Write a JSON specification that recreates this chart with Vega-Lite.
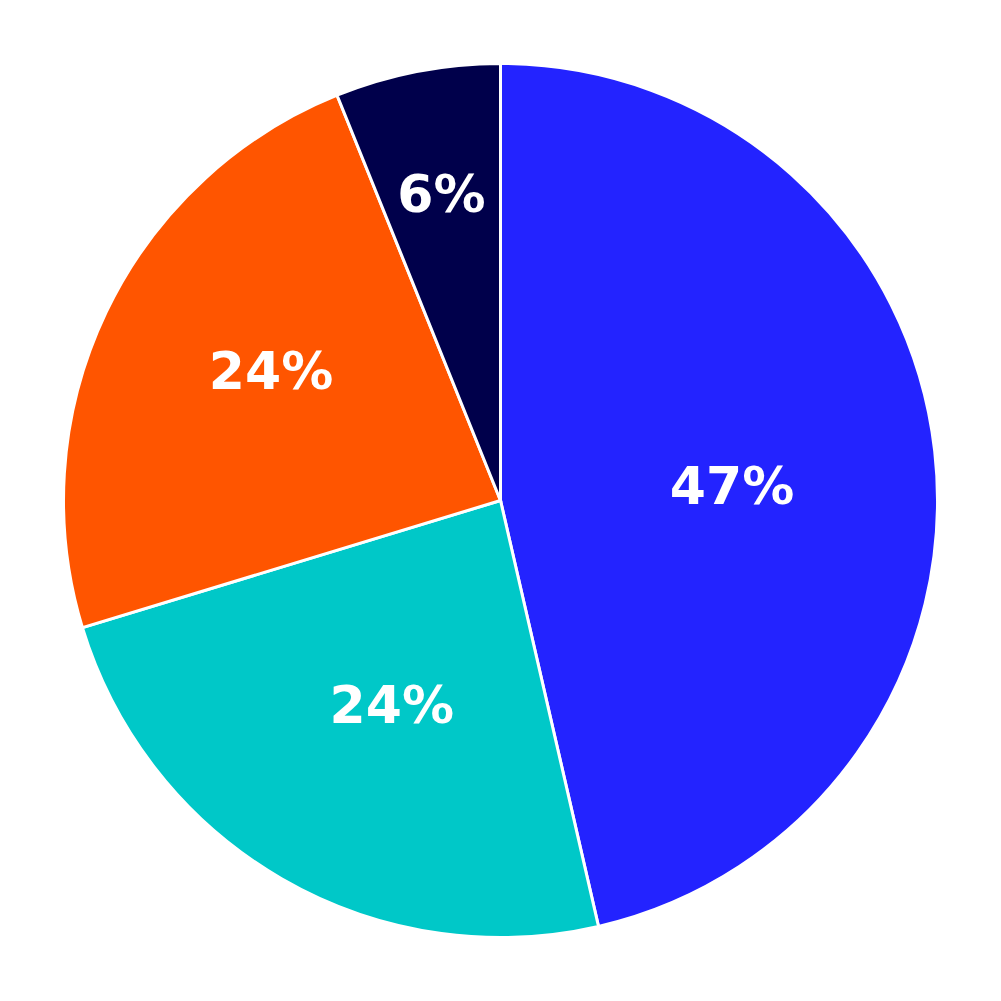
{
  "$schema": "https://vega.github.io/schema/vega-lite/v6.json",
  "autosize": {"type": "fit", "contains": "padding"},
  "width": 1001,
  "height": 1001,
  "padding": 0,
  "background": "white",
  "view": {"stroke": null},
  "data": {"values": [
    {"category": "A", "value": 46.4, "label": "47%", "order": 1},
    {"category": "B", "value": 23.9, "label": "24%", "order": 2},
    {"category": "C", "value": 23.6, "label": "24%", "order": 3},
    {"category": "D", "value": 6.1, "label": "6%", "order": 4}
  ]},
  "encoding": {
    "theta": {"field": "value", "type": "quantitative", "stack": true},
    "order": {"field": "order", "type": "quantitative"},
    "color": {"field": "category", "type": "nominal", "legend": null,
      "scale": {"domain": ["A", "B", "C", "D"], "range": ["#2323FF", "#00C8C8", "#FF5500", "#00004B"]}}
  },
  "layer": [
    {"mark": {"type": "arc", "outerRadius": 437, "stroke": "white", "strokeWidth": 3}},
    {"mark": {"type": "text",
      "radius": {"expr": "datum.category === 'D' ? 310 : datum.category === 'C' ? 261 : 233"},
      "dx": {"expr": "datum.category === 'B' ? 8 : datum.category === 'C' ? 6 : 0"},
      "dy": {"expr": "datum.category === 'A' ? 14 : datum.category === 'B' ? 5 : datum.category === 'C' ? -15 : 0"},
      "font": "DejaVu Sans", "fontWeight": "bold", "fontSize": 52, "fill": "white", "align": "center", "baseline": "middle"},
     "encoding": {"text": {"field": "label"}, "color": {"value": "white"}}}
  ]
}
